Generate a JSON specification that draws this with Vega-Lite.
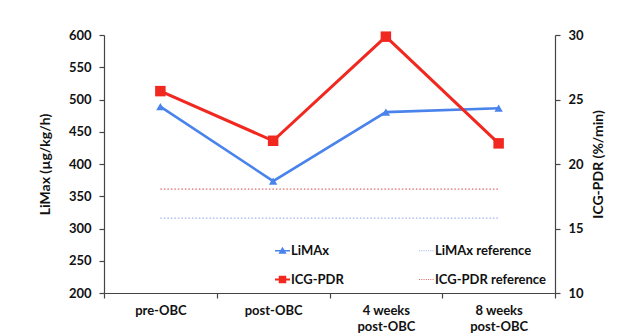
{
  "$schema": "https://vega.github.io/schema/vega-lite/v6.json",
  "width": 451,
  "height": 258,
  "autosize": {"type": "none"},
  "padding": {"left": 104, "top": 35, "right": 74, "bottom": 43},
  "background": "white",
  "config": {
    "font": "Lato",
    "view": {"stroke": null},
    "axis": {
      "labelFont": "Lato",
      "labelFontWeight": "bold",
      "labelFontSize": 13,
      "labelColor": "#111",
      "titleFont": "Lato",
      "titleFontWeight": "bold",
      "titleFontSize": 14,
      "titleColor": "#111",
      "domainColor": "#444",
      "tickColor": "#444",
      "domainWidth": 1.2,
      "tickWidth": 1.2,
      "tickSize": 5,
      "grid": false
    }
  },
  "data": {
    "values": [
      {"time": "pre-OBC", "series": "LiMAx", "value": 489},
      {"time": "post-OBC", "series": "LiMAx", "value": 373.5},
      {"time": "4 weeks post-OBC", "series": "LiMAx", "value": 480.5},
      {"time": "8 weeks post-OBC", "series": "LiMAx", "value": 486.5},
      {"time": "pre-OBC", "series": "LiMAx reference", "value": 316},
      {"time": "post-OBC", "series": "LiMAx reference", "value": 316},
      {"time": "4 weeks post-OBC", "series": "LiMAx reference", "value": 316},
      {"time": "8 weeks post-OBC", "series": "LiMAx reference", "value": 316},
      {"time": "pre-OBC", "series": "ICG-PDR", "value": 25.65},
      {"time": "post-OBC", "series": "ICG-PDR", "value": 21.8},
      {"time": "4 weeks post-OBC", "series": "ICG-PDR", "value": 29.87},
      {"time": "8 weeks post-OBC", "series": "ICG-PDR", "value": 21.6},
      {"time": "pre-OBC", "series": "ICG-PDR reference", "value": 18.05},
      {"time": "post-OBC", "series": "ICG-PDR reference", "value": 18.05},
      {"time": "4 weeks post-OBC", "series": "ICG-PDR reference", "value": 18.05},
      {"time": "8 weeks post-OBC", "series": "ICG-PDR reference", "value": 18.05}
    ]
  },
  "encoding": {
    "x": {
      "field": "time",
      "type": "nominal",
      "sort": ["pre-OBC", "post-OBC", "4 weeks post-OBC", "8 weeks post-OBC"],
      "scale": {"paddingInner": 0, "paddingOuter": 0},
      "axis": {
        "title": null,
        "labelAngle": 0,
        "tickBand": "extent",
        "labelPadding": 6,
        "labelLineHeight": 16,
        "labelExpr": "indexof(datum.label, ' post') > 0 ? [slice(datum.label, 0, indexof(datum.label, ' post')), 'post-OBC'] : datum.label"
      }
    },
    "color": {
      "field": "series",
      "type": "nominal",
      "scale": {
        "domain": ["LiMAx", "ICG-PDR", "LiMAx reference", "ICG-PDR reference"],
        "range": ["#4a83ec", "#f0281f", "#9fb3ee", "#e06a6a"]
      },
      "legend": {
        "title": null,
        "orient": "none",
        "legendX": 171,
        "legendY": 208,
        "columns": 2,
        "columnPadding": 75,
        "rowPadding": 14,
        "symbolSize": 225,
        "labelOffset": 1,
        "labelFont": "Lato",
        "labelFontWeight": "bold",
        "labelFontSize": 13,
        "labelColor": "#111",
        "encode": {
          "symbols": {
            "update": {
              "shape": {"signal": "datum.value === 'LiMAx' ? 'M-1,-0.1H1V0.1H-1Z M0,-0.55L0.55,0.4H-0.55Z' : datum.value === 'ICG-PDR' ? 'M-1,-0.12H1V0.12H-1Z M-0.5,-0.5H0.5V0.5H-0.5Z' : 'M-1,-0.07h0.14v0.14h-0.14Z M-0.7,-0.07h0.14v0.14h-0.14Z M-0.4,-0.07h0.14v0.14h-0.14Z M-0.1,-0.07h0.14v0.14h-0.14Z M0.2,-0.07h0.14v0.14h-0.14Z M0.5,-0.07h0.14v0.14h-0.14Z M0.8,-0.07h0.14v0.14h-0.14Z'"},
              "fill": {"signal": "scale('color', datum.value)"},
              "stroke": {"value": "transparent"},
              "strokeWidth": {"value": 0},
              "opacity": {"value": 1}
            }
          }
        }
      }
    }
  },
  "layer": [
    {
      "encoding": {
        "y": {
          "field": "value",
          "type": "quantitative",
          "scale": {"domain": [200, 600], "nice": false, "zero": false},
          "axis": {
            "orient": "left",
            "title": "LiMax (µg/kg/h)",
            "values": [200, 250, 300, 350, 400, 450, 500, 550, 600],
            "labelPadding": 8,
            "titleBaseline": "middle",
            "titleX": -59,
            "titleY": 129
          }
        }
      },
      "layer": [
        {
          "transform": [{"filter": "datum.series === 'LiMAx reference'"}],
          "mark": {"type": "line", "strokeWidth": 1.3, "strokeDash": [1.5, 2]}
        },
        {
          "transform": [{"filter": "datum.series === 'LiMAx'"}],
          "mark": {"type": "line", "strokeWidth": 2.6}
        },
        {
          "transform": [{"filter": "datum.series === 'LiMAx'"}],
          "mark": {"type": "point", "shape": "triangle-up", "filled": true, "opacity": 1, "size": 70}
        }
      ]
    },
    {
      "encoding": {
        "y": {
          "field": "value",
          "type": "quantitative",
          "scale": {"domain": [10, 30], "nice": false, "zero": false},
          "axis": {
            "orient": "right",
            "title": "ICG-PDR (%/min)",
            "values": [10, 15, 20, 25, 30],
            "labelPadding": 8,
            "titleAngle": 270,
            "titleBaseline": "middle",
            "titleX": 43,
            "titleY": 129
          }
        }
      },
      "layer": [
        {
          "transform": [{"filter": "datum.series === 'ICG-PDR reference'"}],
          "mark": {"type": "line", "strokeWidth": 1.3, "strokeDash": [1.5, 2]}
        },
        {
          "transform": [{"filter": "datum.series === 'ICG-PDR'"}],
          "mark": {"type": "line", "strokeWidth": 3}
        },
        {
          "transform": [{"filter": "datum.series === 'ICG-PDR'"}],
          "mark": {"type": "point", "shape": "square", "filled": true, "opacity": 1, "size": 110}
        }
      ]
    }
  ],
  "resolve": {"scale": {"y": "independent"}}
}
